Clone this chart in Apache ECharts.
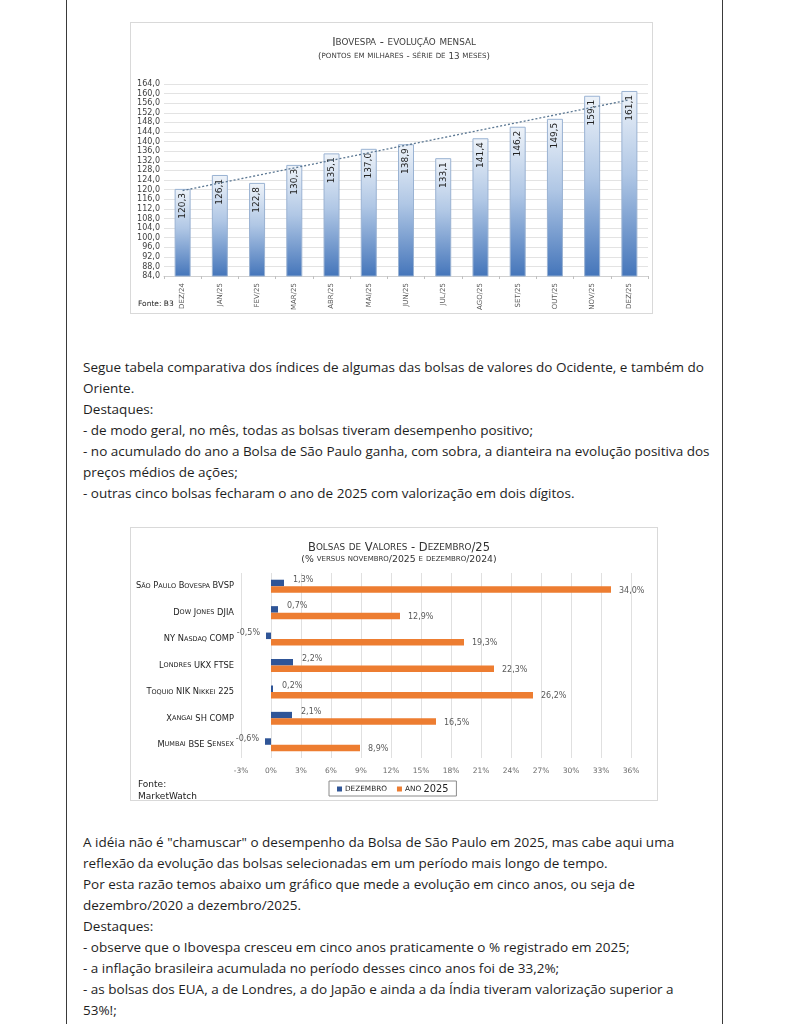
<!DOCTYPE html>
<html>
<head>
<meta charset="utf-8">
<script src="https://cdn.jsdelivr.net/npm/echarts@6/dist/echarts.min.js"></script>
<style>
  html, body { margin: 0; padding: 0; background: #fff; }
  body { width: 785px; height: 1024px; position: relative; overflow: hidden; font-family: "Open Sans", sans-serif; }
  .vline { position: absolute; top: 0; width: 1px; height: 1024px; background: #3a3a3a; }
  .box { position: absolute; border: 1px solid #d9d9d9; box-sizing: border-box; }
  .txt { position: absolute; left: 83px; font-size: 13.5px; line-height: 21px; color: #1e1e1e; white-space: nowrap; }
</style>
</head>
<body>
<div class="vline" style="left:66px"></div>
<div class="vline" style="left:722px"></div>

<div id="c1" class="box" style="left:130px; top:22px; width:523px; height:292px;"></div>

<div class="txt" style="top:357px;">
Segue tabela comparativa dos índices de algumas das bolsas de valores do Ocidente, e também do<br>
Oriente.<br>
Destaques:<br>
- de modo geral, no mês, todas as bolsas tiveram desempenho positivo;<br>
- no acumulado do ano a Bolsa de São Paulo ganha, com sobra, a dianteira na evolução positiva dos<br>
preços médios de ações;<br>
- outras cinco bolsas fecharam o ano de 2025 com valorização em dois dígitos.
</div>

<div id="c2" class="box" style="left:130px; top:527px; width:528px; height:274px;"></div>

<div class="txt" style="top:832px;">
A idéia não é "chamuscar" o desempenho da Bolsa de São Paulo em 2025, mas cabe aqui uma<br>
reflexão da evolução das bolsas selecionadas em um período mais longo de tempo.<br>
Por esta razão temos abaixo um gráfico que mede a evolução em cinco anos, ou seja de<br>
dezembro/2020 a dezembro/2025.<br>
Destaques:<br>
- observe que o Ibovespa cresceu em cinco anos praticamente o % registrado em 2025;<br>
- a inflação brasileira acumulada no período desses cinco anos foi de 33,2%;<br>
- as bolsas dos EUA, a de Londres, a do Japão e ainda a da Índia tiveram valorização superior a<br>
53%!;
</div>

<script>
// ---------- Chart 1 data ----------
const months = ['DEZ/24','JAN/25','FEV/25','MAR/25','ABR/25','MAI/25','JUN/25','JUL/25','AGO/25','SET/25','OUT/25','NOV/25','DEZ/25'];
const ibovespa = [120.3, 126.1, 122.8, 130.3, 135.1, 137.0, 138.9, 133.1, 141.4, 146.2, 149.5, 159.1, 161.1];
const trendEnds = [119.6, 157.4];
const yTicksMin = 84, yTicksMax = 164, yTickStep = 4;

// ---------- Chart 2 data ----------
const bolsas = ['São Paulo Bovespa BVSP','Dow Jones DJIA','NY Nasdaq COMP','Londres UKX FTSE','Toquio NIK Nikkei 225','Xangai SH COMP','Mumbai BSE Sensex'];
const dezembro = [1.3, 0.7, -0.5, 2.2, 0.2, 2.1, -0.6];
const ano2025 = [34.0, 12.9, 19.3, 22.3, 26.2, 16.5, 8.9];
const seriesNames = ['Dezembro', 'Ano 2025'];
const xMin = -3, xMax = 36, xStep = 3;

const FONT = '"DejaVu Sans", Verdana, sans-serif';
const comma = (v, d) => v.toFixed(d).replace('.', ',');

// small caps via rich text: lowercase letters -> uppercase in smaller style
function sc(str, big, small) {
  let out = '', cur = null, buf = '';
  for (const ch of str) {
    const isLower = ch !== ch.toUpperCase() && ch === ch.toLowerCase();
    const k = isLower ? small : big;
    const c = isLower ? ch.toUpperCase() : ch;
    if (k !== cur) { if (buf) out += '{' + cur + '|' + buf + '}'; buf = ''; cur = k; }
    buf += c;
  }
  if (buf) out += '{' + cur + '|' + buf + '}';
  return out;
}

// ---------- Chart 1 ----------
const c1 = echarts.init(document.getElementById('c1'), null, {renderer: 'canvas'});
c1.setOption({
  animation: false,
  textStyle: { fontFamily: FONT },
  graphic: [
    { type: 'text', x: 273, y: 14, style: {
        text: sc('Ibovespa - evolução mensal', 'b', 's'), align: 'center', fill: '#404040',
        rich: { b: { fontSize: 11.5, fontFamily: FONT, fill: '#404040' }, s: { fontSize: 8.8, fontFamily: FONT, fill: '#404040' } } } },
    { type: 'text', x: 273, y: 29, style: {
        text: sc('(pontos em milhares - série de 13 meses)', 'b', 's'), align: 'center', fill: '#404040',
        rich: { b: { fontSize: 8.8, fontFamily: FONT, fill: '#404040' }, s: { fontSize: 7.1, fontFamily: FONT, fill: '#404040' } } } },
    { type: 'text', x: 7, y: 277, style: { text: 'Fonte: B3', fontSize: 7.5, fontFamily: FONT, fill: '#222' } }
  ],
  grid: { left: 33, top: 61, width: 484, height: 193.5, containLabel: false },
  xAxis: {
    type: 'category', data: months,
    axisLine: { lineStyle: { color: '#d0d0d0' } },
    axisTick: { show: true, length: 3, lineStyle: { color: '#c0c0c0' } },
    axisLabel: { rotate: 90, fontSize: 7, color: '#595959', margin: 7, fontFamily: FONT }
  },
  yAxis: {
    type: 'value', min: yTicksMin, max: yTicksMax, interval: yTickStep,
    axisLine: { show: false }, axisTick: { show: false },
    axisLabel: { fontSize: 8, color: '#404040', margin: 4, fontFamily: FONT, formatter: v => comma(v, 1) },
    splitLine: { lineStyle: { color: '#e3e3e3' } }
  },
  series: [{
    type: 'bar', data: ibovespa, barWidth: 16,
    itemStyle: {
      color: new echarts.graphic.LinearGradient(0, 0, 0, 1, [
        { offset: 0, color: '#eef3f9' }, { offset: 0.45, color: '#b0c7e5' }, { offset: 1, color: '#4475ba' }
      ]),
      borderColor: '#9ab3d3', borderWidth: 1
    },
    label: {
      show: true, position: 'insideTop', rotate: 90, align: 'right', verticalAlign: 'middle',
      distance: 4, fontSize: 9, color: '#222', fontFamily: FONT, formatter: p => comma(p.value, 1)
    },
    markLine: {
      silent: true, symbol: ['none', 'none'], label: { show: false },
      lineStyle: { type: [2, 2], color: '#5b7792', width: 1.3 },
      data: [[{ coord: [0, trendEnds[0]] }, { coord: [months.length - 1, trendEnds[1]] }]]
    }
  }]
});

// ---------- Chart 2 ----------
const c2 = echarts.init(document.getElementById('c2'), null, {renderer: 'canvas'});
const catRich = { b: { fontSize: 8.3, fontFamily: FONT, color: '#222' }, s: { fontSize: 6.5, fontFamily: FONT, color: '#222' } };
c2.setOption({
  animation: false,
  textStyle: { fontFamily: FONT },
  graphic: [
    { type: 'text', x: 268, y: 14, style: {
        text: sc('Bolsas de Valores - Dezembro/25', 'b', 's'), align: 'center',
        rich: { b: { fontSize: 11.5, fontFamily: FONT, fill: '#333' }, s: { fontSize: 8.8, fontFamily: FONT, fill: '#333' } } } },
    { type: 'text', x: 268, y: 27, style: {
        text: sc('(% versus novembro/2025 e dezembro/2024)', 'b', 's'), align: 'center',
        rich: { b: { fontSize: 9.3, fontFamily: FONT, fill: '#333' }, s: { fontSize: 7, fontFamily: FONT, fill: '#333' } } } },
    { type: 'text', x: 7, y: 251, style: { text: 'Fonte:\nMarketWatch', fontSize: 9, lineHeight: 11.5, fontFamily: FONT, fill: '#222' } }
  ],
  legend: {
    left: 198, top: 253, orient: 'horizontal',
    borderColor: '#8a8a8a', borderWidth: 1, padding: [3, 8, 2, 8],
    icon: 'rect', itemWidth: 5, itemHeight: 5, itemGap: 10,
    data: seriesNames,
    formatter: n => n === 'Dezembro' ? '{s|DEZEMBRO}' : '{s|ANO }{b|2025}',
    textStyle: { padding: [0, 0, 0, -2], rich: { s: { fontSize: 7.3, fontFamily: FONT, color: '#222' }, b: { fontSize: 9.8, fontFamily: FONT, color: '#222' } } }
  },
  grid: { left: 110, top: 45, width: 390, height: 185, containLabel: false },
  xAxis: {
    type: 'value', min: xMin, max: xMax, interval: xStep,
    axisLine: { show: false }, axisTick: { show: false },
    axisLabel: { fontSize: 7.5, color: '#6a6a6a', margin: 9, fontFamily: FONT, formatter: v => v + '%' },
    splitLine: { lineStyle: { color: '#e0e0e0' } }
  },
  yAxis: {
    type: 'category', data: bolsas, inverse: true,
    axisLine: { show: false }, axisTick: { show: false },
    axisLabel: { margin: 7, formatter: v => sc(v, 'b', 's'), rich: catRich }
  },
  series: [
    {
      name: seriesNames[0], type: 'bar', barWidth: 6.5, barGap: '0%',
      itemStyle: { color: '#2f5597' },
      data: dezembro.map(v => ({
        value: v,
        label: { position: v < 0 ? 'left' : 'right', offset: [v < 0 ? -1 : 4, -3] }
      })),
      label: { show: true, fontSize: 8, color: '#595959', fontFamily: FONT, formatter: p => comma(p.value, 1) + '%' }
    },
    {
      name: seriesNames[1], type: 'bar', barWidth: 6.5,
      itemStyle: { color: '#ed7d31' },
      data: ano2025,
      label: { show: true, position: 'right', distance: 8, offset: [0, 1], fontSize: 8, color: '#595959', fontFamily: FONT, formatter: p => comma(p.value, 1) + '%' }
    }
  ]
});
</script>
</body>
</html>
